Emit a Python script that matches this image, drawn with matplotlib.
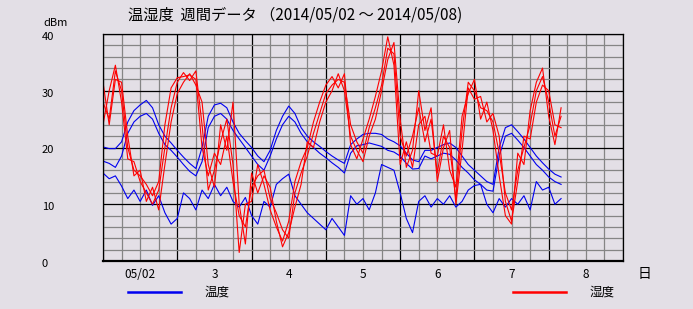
import matplotlib
matplotlib.use("Agg")
import matplotlib.pyplot as plt
from matplotlib.lines import Line2D
from matplotlib.transforms import blended_transform_factory

plt.rcParams['font.family'] = ['Noto Sans CJK JP', 'DejaVu Sans']

BG = "#E3DFE6"
BLUE = "#0000F0"
RED = "#FF0000"

TITLE = "温湿度  週間データ （2014/05/02 ～ 2014/05/08)"
DAY_LABELS = ["05/02", "3", "4", "5", "6", "7", "8"]
Y_LABELS = [0, 10, 20, 30, 40]

# hours since 05/02 00:00, every 2 h
hours = list(range(0, 149, 2))

# temperature (blue)
temp_a = [20.1, 19.8, 19.8, 21, 24.5, 26.5, 27.5, 28.3, 27, 24, 22, 20.8,
          19.5, 18.3, 17.2, 16.3, 20, 25.5, 27.5, 27.8, 27, 24.5, 22.5, 21.2,
          20, 18.5, 17.5, 19.5, 23, 25.5, 27.3, 26, 23.5, 22, 21, 20.2,
          19.3, 18.5, 17.8, 17.2, 20.5, 21.5, 22.3, 22.5, 22.5, 22.3, 21.5, 21,
          20.3, 19, 17.8, 17.5, 19.5, 19.5, 20, 20.5, 20.8, 20, 18.5, 17,
          16, 15, 14, 13.5, 20, 23.5, 24, 22.8, 21.5, 20, 18.5, 17.3,
          16.2, 15.3, 14.8]
temp_b = [17.6, 17.2, 16.5, 18.5, 22.5, 24.5, 25.5, 26, 25, 22.5, 20.5, 19.5,
          18.3, 17, 15.8, 15, 17.5, 23.5, 25.5, 26, 25, 23, 21.5, 20,
          18.5, 17, 16, 18.5, 21.5, 24, 25.5, 24.5, 22.5, 21, 20, 19,
          18.2, 17.3, 16.5, 15.5, 19, 20.3, 20.5, 20.8, 20.5, 20.2, 19.5, 19.2,
          18.5, 17.2, 16.2, 16.3, 18.5, 18, 18.5, 19, 18.8, 17.8, 16.5, 15.5,
          14.3, 13.5, 12.5, 12.3, 18.5, 22, 22.5, 21.3, 20, 18.5, 17, 16,
          14.8, 14, 13.5]
temp_c = [15.5, 14.5, 15, 13.2, 11, 12.5, 10.5, 12.5, 9.8, 11.5, 8.5, 6.5,
          7.5, 12, 11, 9, 12.5, 11, 13.5, 11.5, 13, 10.5, 9.5, 11.2,
          8, 6.5, 10.5, 9.5, 13.5, 14.5, 15.3, 11.5, 10, 8.5, 7.5, 6.5,
          5.5, 7.5, 6, 4.5, 11.5, 10, 11, 9, 12, 17, 16.5, 16,
          12, 7.5, 5, 10.5, 11.5, 9.5, 11, 10, 11.5, 9.5, 10.5, 12.5,
          13.3, 13.5, 10, 8.5, 11, 9.5, 11, 10, 11.5, 9, 14, 12.5,
          13, 10, 11]

# humidity (red)
hum_a = [28, 25, 33.5, 30, 20, 16, 15, 13.5, 11.5, 14, 24, 30.5,
         32.3, 32.5, 32.8, 32, 20, 15, 19, 17, 22, 14, 8, 6,
         13, 15, 16, 11, 8.5, 5.5, 4, 12, 15.5, 18.5, 22.5, 26,
         29.5, 31, 32, 31.5, 24, 21, 19, 23.5, 27, 31, 37.5, 36.5,
         22, 18.5, 22, 27, 21, 25, 15.5, 22, 20, 11, 23, 31.5,
         30, 27, 26.5, 24.5, 19, 12, 9, 16, 20, 24, 30, 32.5,
         28, 22, 25.5]
hum_b = [24, 30, 34.5, 28, 18, 17.5, 14, 12, 10, 12.5, 20, 27,
         31.5, 33.2, 31.8, 33.5, 24, 12.5, 16, 21, 25, 17, 1.5, 10,
         10.5, 17, 13.5, 9, 6, 3.5, 7, 14, 17.5, 20, 24.5, 28,
         31, 32.5, 30.5, 33, 20.5, 18, 21.5, 25, 29, 33.5, 39.5, 34.5,
         17, 21, 16.5, 24, 25.5, 19, 18.5, 24, 16, 13, 25.5, 29.5,
         32, 25, 28, 23, 15, 8, 6.5, 19, 17, 26.5, 31.5, 34,
         25.5, 20.5, 27]
hum_c = [31.5, 24, 32, 31.5, 22, 15, 16, 10.5, 13, 9, 17, 24.5,
         29.5, 31.5, 33, 31, 28, 17, 13, 24, 19.5, 28, 10, 3,
         15.5, 12, 15, 13, 7, 2.5, 5, 9.5, 13.5, 21, 20, 24.5,
         28, 30, 33, 30, 22, 19.5, 17.5, 22, 25, 30, 35.5, 38.5,
         25, 16.5, 19.5, 30, 23, 27, 14, 20, 23, 10, 19.5, 30.5,
         28.5, 29, 24.5, 26, 22, 10.5, 7, 14, 22, 21.5, 28, 31,
         30, 24, 23.5]

fig = plt.figure(figsize=(6.93, 3.09), dpi=100, facecolor=BG)
ax = fig.add_axes([103 / 693, 48 / 309, 520 / 693, 227 / 309])
ax.set_facecolor(BG)

for s in [temp_a, temp_b, temp_c]:
    ax.plot(hours, s, color=BLUE, lw=0.8)
for s in [hum_a, hum_b, hum_c]:
    ax.plot(hours, s, color=RED, lw=0.8)

ax.set_xlim(0, 168)
ax.set_ylim(0, 40)
ax.set_xticks(range(0, 169, 24))
ax.set_xticks(range(0, 169, 6), minor=True)
ax.set_yticks(range(0, 41, 10))
ax.set_yticks(range(0, 41, 2), minor=True)
ax.grid(which="minor", color="#858585", lw=0.9)
ax.grid(which="major", color="black", lw=0.9)
ax.set_axisbelow(True)
ax.tick_params(which="both", length=0, labelbottom=False, labelleft=False)
for sp in ax.spines.values():
    sp.set_color("black")
    sp.set_linewidth(0.9)
ax.spines["bottom"].set_linewidth(1.6)

# y labels (sit a little below their grid line)
ty = blended_transform_factory(fig.transFigure, ax.transData)
for v in Y_LABELS:
    ax.text(42 / 693, v - 0.5, str(v), transform=ty, ha="left", va="center", fontsize=8)
fig.text(43 / 693, 1 - 23 / 309, "dBm", ha="left", va="center", fontsize=8)

# x labels
tx = blended_transform_factory(ax.transData, fig.transFigure)
for i, lab in enumerate(DAY_LABELS):
    ax.text(12 + 24 * i, 1 - 274 / 309, lab, transform=tx, ha="center", va="center", fontsize=8.5)
fig.text(645 / 693, 1 - 274 / 309, "日", ha="center", va="center", fontsize=10)

fig.text(128 / 693, 1 - 15 / 309, TITLE, ha="left", va="center", fontsize=11)

# legend
fig.add_artist(Line2D([128 / 693, 181 / 693], [1 - 292 / 309] * 2, color=BLUE, lw=1.8))
fig.text(205 / 693, 1 - 292 / 309, "温度", ha="left", va="center", fontsize=9)
fig.add_artist(Line2D([513 / 693, 566 / 693], [1 - 292 / 309] * 2, color=RED, lw=1.8))
fig.text(590 / 693, 1 - 292 / 309, "湿度", ha="left", va="center", fontsize=9)

plt.savefig("out.png", dpi=100, facecolor=BG)
